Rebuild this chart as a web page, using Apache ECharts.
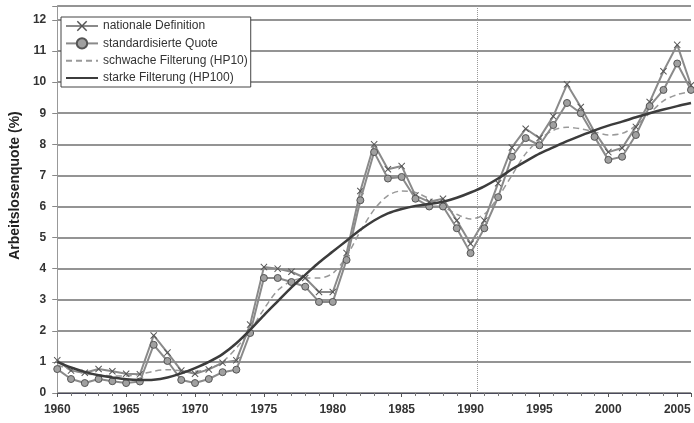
<!DOCTYPE html>
<html>
<head>
<meta charset="utf-8">
<script src="https://cdn.jsdelivr.net/npm/echarts@6/dist/echarts.min.js"></script>
<style>
html,body{margin:0;padding:0;background:#fff;}
#c{width:694px;height:423px;}
</style>
</head>
<body>
<div id="c"></div>
<script>
var years = [];
for (var y = 1960; y <= 2006; y++) years.push(y);

var nationale = [1.05,0.72,0.65,0.77,0.70,0.62,0.60,1.85,1.30,0.72,0.62,0.76,0.97,1.05,2.20,
  4.05,4.00,3.90,3.70,3.25,3.25,4.50,6.50,8.00,7.20,7.30,6.35,6.15,6.25,5.55,4.80,
  5.55,6.75,7.90,8.50,8.20,8.90,9.93,9.20,8.40,7.75,7.88,8.56,9.36,10.35,11.20,9.90];
var standard = [0.77,0.45,0.32,0.45,0.38,0.32,0.37,1.55,1.03,0.42,0.32,0.45,0.67,0.75,1.93,
  3.70,3.70,3.57,3.42,2.93,2.93,4.28,6.20,7.75,6.90,6.95,6.25,6.00,6.00,5.30,4.50,
  5.30,6.30,7.60,8.20,7.97,8.62,9.33,9.00,8.24,7.50,7.60,8.30,9.23,9.75,10.60,9.75];
var hp10 = [0.90,0.75,0.62,0.58,0.55,0.55,0.60,0.70,0.75,0.72,0.70,0.78,1.00,1.45,2.00,
  2.70,3.30,3.60,3.70,3.70,3.85,4.40,5.20,5.90,6.35,6.50,6.45,6.25,6.00,5.75,5.60,
  5.75,6.30,7.00,7.70,8.15,8.45,8.55,8.50,8.40,8.30,8.35,8.60,9.00,9.40,9.60,9.70];
var hp100 = [1.00,0.82,0.68,0.57,0.50,0.44,0.42,0.43,0.50,0.63,0.80,1.00,1.25,1.60,2.03,
  2.50,2.95,3.40,3.80,4.20,4.55,4.90,5.25,5.55,5.78,5.92,6.02,6.08,6.15,6.28,6.45,
  6.65,6.90,7.20,7.45,7.70,7.90,8.10,8.28,8.45,8.60,8.73,8.87,9.00,9.12,9.23,9.33];
var seriesNames = ['nationale Definition','standardisierte Quote','schwache Filterung (HP10)','starke Filterung (HP100)'];
var yTitle = 'Arbeitslosenquote (%)';
var reunification = 1990.5;

function pairs(vals){ return years.map(function(yr,i){ return [yr, vals[i]]; }); }

var crossPath = 'path://M1,0L5,4L9,0L10,1L6,5L10,9L9,10L5,6L1,10L0,9L4,5L0,1Z';
var font = 'Liberation Sans, Arial, sans-serif';
var noSymbol = { color: 'rgba(0,0,0,0)', borderWidth: 0, borderColor: 'rgba(0,0,0,0)' };

var chart = echarts.init(document.getElementById('c'));
chart.setOption({
  backgroundColor: '#fff',
  animation: false,
  textStyle: { fontFamily: font },
  grid: { left: 52, right: 0, top: 6, bottom: 30 },
  legend: {
    orient: 'vertical',
    left: 61, top: 17,
    padding: [3, 3, 3, 4],
    itemGap: 5.2,
    itemWidth: 32,
    itemHeight: 13,
    backgroundColor: '#fff',
    borderColor: '#444',
    borderWidth: 1,
    textStyle: { fontSize: 12, color: '#333', fontFamily: font },
    data: [
      { name: seriesNames[0] },
      { name: seriesNames[1] },
      { name: seriesNames[2], itemStyle: noSymbol },
      { name: seriesNames[3], itemStyle: noSymbol }
    ]
  },
  xAxis: {
    type: 'value',
    min: 1960, max: 2006, interval: 5,
    axisLine: { show: true, onZero: false, lineStyle: { color: '#4a4a5a', width: 1.2 } },
    axisTick: { show: true, length: 4, lineStyle: { color: '#555' } },
    minorTick: { show: true, splitNumber: 5, length: 3, lineStyle: { color: '#777' } },
    splitLine: { show: false },
    axisLabel: {
      fontSize: 12, fontWeight: 'bold', color: '#333', margin: 11,
      formatter: function(v){ return (v % 5 === 0) ? String(v) : ''; }
    }
  },
  yAxis: {
    type: 'value',
    min: 0, max: 12.45, interval: 1,
    name: yTitle,
    nameLocation: 'middle',
    nameGap: 35,
    nameTextStyle: { fontSize: 14, fontWeight: 'bold', color: '#222', padding: [0, 0, 0, 28] },
    axisLine: { show: true, lineStyle: { color: '#999', width: 1 } },
    axisTick: { show: true, length: 5, lineStyle: { color: '#888' } },
    splitLine: { show: true, lineStyle: { color: '#707070', width: 1.6 } },
    axisLabel: {
      fontSize: 12, fontWeight: 'bold', color: '#333', margin: 11,
      formatter: function(v){ return (Math.abs(v - Math.round(v)) < 1e-6) ? String(v) : ''; }
    }
  },
  series: [
    {
      name: seriesNames[0], type: 'line', data: pairs(nationale),
      symbol: crossPath, symbolSize: 7,
      lineStyle: { color: '#8a8a8a', width: 2 },
      itemStyle: { color: '#555' },
      z: 3,
      markLine: {
        silent: true, symbol: 'none', label: { show: false },
        lineStyle: { color: '#999', type: 'dotted', width: 1 },
        data: [{ xAxis: reunification }]
      }
    },
    {
      name: seriesNames[1], type: 'line', data: pairs(standard),
      symbol: 'circle', symbolSize: 7,
      lineStyle: { color: '#8a8a8a', width: 2 },
      itemStyle: { color: '#a0a0a0', borderColor: '#555', borderWidth: 1 },
      z: 4
    },
    {
      name: seriesNames[2], type: 'line', data: pairs(hp10),
      symbol: 'none', smooth: 0.3,
      lineStyle: { color: '#999', width: 1.5, type: [6, 4] },
      itemStyle: { color: '#999' },
      z: 2
    },
    {
      name: seriesNames[3], type: 'line', data: pairs(hp100),
      symbol: 'none', smooth: 0.3,
      lineStyle: { color: '#3c3c3c', width: 2.5 },
      itemStyle: { color: '#3c3c3c' },
      z: 5
    }
  ]
});
</script>
</body>
</html>
